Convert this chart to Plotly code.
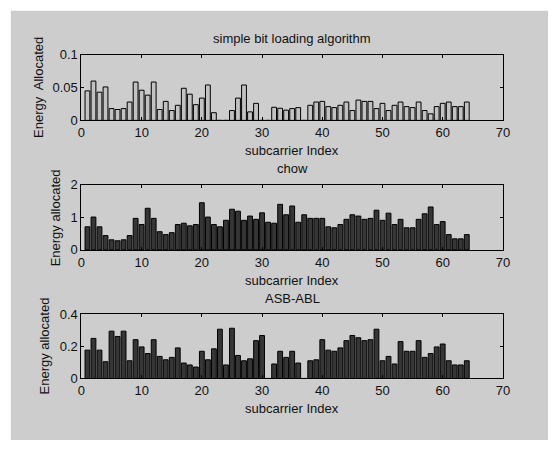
import plotly.graph_objects as go

W, H = 555, 449

subcarriers = list(range(1, 65))

simple_energy = [0.045, 0.060, 0.043, 0.051, 0.018, 0.0166, 0.018, 0.028, 0.0585, 0.046,
                 0.0385, 0.0585, 0.0166, 0.029, 0.015, 0.023, 0.049, 0.040, 0.024, 0.034,
                 0.054, 0.0117, 0, 0, 0.015, 0.034, 0.054, 0.013, 0.026, 0,
                 0, 0.020, 0.0185, 0.0156, 0.018, 0.0195, 0, 0.023, 0.028, 0.029,
                 0.021, 0.0195, 0.023, 0.028, 0.015, 0.031, 0.029, 0.029, 0.018, 0.026,
                 0.015, 0.023, 0.028, 0.021, 0.0195, 0.028, 0.015, 0.010, 0.021, 0.026,
                 0.028, 0.021, 0.021, 0.028]

chow_energy = [0.71, 1.01, 0.71, 0.44, 0.31, 0.28, 0.31, 0.44, 0.97, 0.78,
               1.28, 0.97, 0.56, 0.47, 0.53, 0.78, 0.82, 0.74, 0.78, 1.45,
               1.01, 0.78, 0.71, 0.91, 1.25, 1.19, 0.91, 1.04, 0.94, 1.14,
               0.85, 0.82, 1.40, 1.08, 1.35, 0.85, 1.08, 0.97, 0.97, 0.97,
               0.71, 0.68, 0.78, 0.94, 1.08, 1.04, 0.94, 0.97, 1.22, 0.91,
               1.13, 0.78, 0.94, 0.68, 0.68, 0.94, 1.11, 1.32, 0.78, 0.87,
               0.47, 0.34, 0.34, 0.47]

asb_energy = [0.176, 0.249, 0.176, 0.104, 0.294, 0.261, 0.294, 0.110, 0.241, 0.196,
              0.155, 0.241, 0.137, 0.116, 0.131, 0.190, 0.096, 0.084, 0.071, 0.169,
              0.116, 0.184, 0.306, 0.084, 0.312, 0.143, 0.110, 0.122, 0.235, 0.267,
              0, 0.090, 0.169, 0.131, 0.169, 0.096, 0, 0.110, 0.116, 0.241,
              0.176, 0.169, 0.190, 0.235, 0.267, 0.253, 0.235, 0.241, 0.306, 0.110,
              0.137, 0.090, 0.229, 0.169, 0.169, 0.235, 0.131, 0.155, 0.196, 0.214,
              0.110, 0.084, 0.084, 0.110]

titles = ["simple bit loading algorithm", "chow", "ASB-ABL"]
ylabels = ["Energy  Allocated", "Energy allocated", "Energy allocated"]
xlabel = "subcarrier Index"
x_ticks = [0, 10, 20, 30, 40, 50, 60, 70]
y_ticks = [[0, 0.05, 0.1], [0, 1, 2], [0, 0.2, 0.4]]
y_ticktext = [["0", "0.05", "0.1"], ["0", "1", "2"], ["0", "0.2", "0.4"]]
y_ranges = [[0, 0.1], [0, 2], [0, 0.4]]
bar_colors = ["#c2c2c2", "#363636", "#363636"]
series = [simple_energy, chow_energy, asb_energy]

FONT = "Liberation Sans, Arial, Helvetica, sans-serif"
FS = 13
TXT = "#111111"

# axes pixel boxes (top, bottom) in page pixels
x_left, x_right = 79, 509
boxes = [(49.5, 117.3), (184, 251.3), (317.7, 384.3)]
ylabel_x = [35, 52, 41]

fig = go.Figure()
layout = dict(
    width=W, height=H,
    margin=dict(l=0, r=0, t=0, b=0),
    paper_bgcolor="white",
    plot_bgcolor="white",
    showlegend=False,
    bargap=0.2,
    font=dict(family=FONT, size=FS, color=TXT),
    annotations=[],
    shapes=[dict(type="rect", xref="paper", yref="paper",
                 x0=7 / W, x1=1, y0=1 / H, y1=1 - 4 / H,
                 fillcolor="#cdcdcd", line=dict(width=0), layer="below")],
)

for i in range(3):
    sfx = "" if i == 0 else str(i + 1)
    fig.add_trace(go.Bar(
        x=subcarriers, y=series[i], width=0.8,
        marker=dict(color=bar_colors[i], line=dict(color="#000000", width=1)),
        xaxis="x" + sfx, yaxis="y" + sfx,
    ))
    top, bot = boxes[i]
    ydom = [1 - bot / H, 1 - top / H]
    layout["xaxis" + sfx] = dict(
        domain=[x_left / W, x_right / W], range=[0, 70],
        tickvals=x_ticks, ticks="inside", ticklen=3, tickcolor="black",
        showline=True, linecolor="black", linewidth=1, mirror="ticks",
        showgrid=False, zeroline=False, anchor="y" + sfx,
        tickfont=dict(family=FONT, size=FS, color=TXT),
    )
    layout["yaxis" + sfx] = dict(
        domain=ydom, range=y_ranges[i],
        tickvals=y_ticks[i], ticktext=y_ticktext[i],
        ticks="inside", ticklen=3, tickcolor="black",
        showline=True, linecolor="black", linewidth=1, mirror="ticks",
        showgrid=False, zeroline=False, anchor="x" + sfx,
        tickfont=dict(family=FONT, size=FS, color=TXT),
    )
    xc = (x_left + x_right) / 2 / W
    layout["annotations"].append(dict(
        text=titles[i], xref="paper", yref="paper", x=xc, y=1 - (top - 16.5) / H,
        xanchor="center", yanchor="middle", showarrow=False,
        font=dict(family=FONT, size=FS, color=TXT)))
    layout["annotations"].append(dict(
        text=xlabel, xref="paper", yref="paper", x=xc, y=1 - (bot + 31.5) / H,
        xanchor="center", yanchor="middle", showarrow=False,
        font=dict(family=FONT, size=FS, color=TXT)))
    layout["annotations"].append(dict(
        text=ylabels[i], xref="paper", yref="paper", x=ylabel_x[i] / W,
        y=1 - (top + bot) / 2 / H, textangle=-90,
        xanchor="center", yanchor="middle", showarrow=False,
        font=dict(family=FONT, size=FS, color=TXT)))

fig.update_layout(**layout)
fig.write_html("out.html")
